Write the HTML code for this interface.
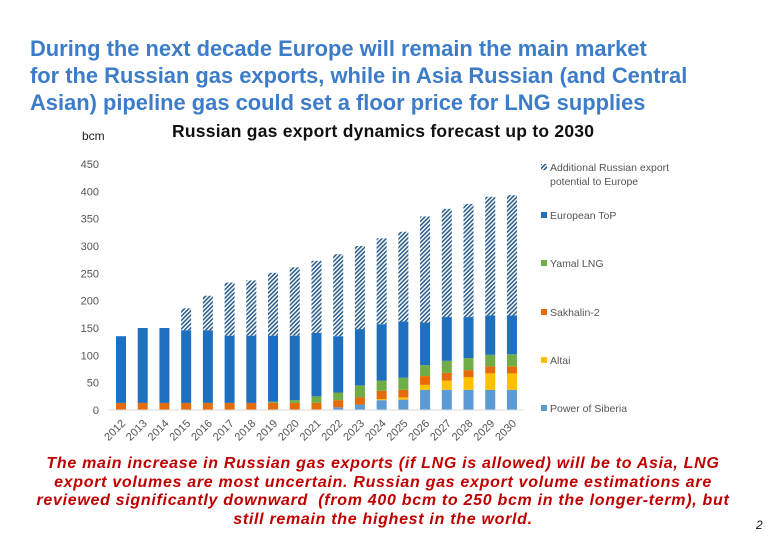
<!DOCTYPE html>
<html><head><meta charset="utf-8"><style>
body{margin:0;width:780px;height:540px;background:#fff;overflow:hidden;position:relative;font-family:"Liberation Sans",sans-serif}
.t{position:absolute;left:30px;top:35px;color:#3d7cc9;font-weight:bold;font-size:21.9px;line-height:27px;margin:0;white-space:nowrap}
.bt{position:absolute;left:0;width:766px;top:455px;color:#c00000;font-style:italic;font-weight:bold;font-size:16px;letter-spacing:0.7px;line-height:18.5px;text-align:center;white-space:nowrap}
</style></head><body>
<h1 class="t">During the next decade Europe will remain the main market<br>for the Russian gas exports, while in Asia Russian (and Central<br>Asian) pipeline gas could set a floor price for LNG supplies</h1>
<svg id="c" width="780" height="540" style="position:absolute;left:0;top:0">
<defs><pattern id="hatch" width="3" height="3" patternUnits="userSpaceOnUse" patternTransform="rotate(45)"><rect width="3" height="3" fill="#fff"/><rect width="1.6" height="3" fill="#2e5f8a"/></pattern></defs>
<text x="82" y="140" font-size="12" fill="#222">bcm</text>
<text x="172" y="137" font-size="17.5" font-weight="bold" fill="#111" textLength="422">Russian gas export dynamics forecast up to 2030</text>
<text x="756" y="529" font-size="12" font-style="italic" fill="#111">2</text>
</svg>
<div class="bt">The main increase in Russian gas exports (if LNG is allowed) will be to Asia, LNG<br>export volumes are most uncertain. Russian gas export volume estimations are<br>reviewed significantly downward &nbsp;(from 400 bcm to 250 bcm in the longer-term), but<br>still remain the highest in the world.</div>
<script>
const years=[2012,2013,2014,2015,2016,2017,2018,2019,2020,2021,2022,2023,2024,2025,2026,2027,2028,2029,2030];
const powerOfSiberia=[0,0,0,0,0,0,0,0,0,1,5,10,18,19,37,37,37,37,37];
const altai=[0,0,0,0,0,0,0,0,0,0,0,0,2,4,9,17,23,30,30];
const sakhalin2=[13,13,13,13,13,13,13,13,13,12,13,13,15,14,16,14,13,13,13];
const yamalLng=[0,0,0,0,0,0,0,2,5,12,14,22,19,22,20,22,22,21,22];
const europeanTop=[122,137,137,133,133,123,123,121,118,116,103,103,103,103,78,80,75,72,71];
const additional=[0,0,0,40,63,97,101,115,125,132,150,152,157,164,194,198,207,217,220];
const yTicks=[0,50,100,150,200,250,300,350,400,450];
const seriesNames=["Power of Siberia","Altai","Sakhalin-2","Yamal LNG","European ToP","Additional Russian export"];
const ns="http://www.w3.org/2000/svg",svg=document.getElementById('c');
const y0=410,yMax=450,ph=246,x0=121,step=21.72,bw=10;
const Y=v=>y0-v/yMax*ph, X=i=>x0+i*step;
function mk(t,a){const e=document.createElementNS(ns,t);for(const k in a)e.setAttribute(k,a[k]);svg.appendChild(e);return e;}
yTicks.forEach(v=>{const e=mk('text',{x:99,y:Y(v)+4,'font-size':11,fill:'#555','text-anchor':'end'});e.textContent=v;

});
const series=[powerOfSiberia,altai,sakhalin2,yamalLng,europeanTop,additional];
const colors=["#5b9bd5","#ffc000","#e46c0a","#70ad47","#1f6fbf","url(#hatch)"];
const keys=["power-of-siberia","altai","sakhalin-2","yamal-lng","european-top","additional-potential"];
years.forEach((yr,i)=>{let acc=0;
series.forEach((s,k)=>{const v=s[i];if(v>0){const r=mk('rect',{x:X(i)-bw/2,y:Y(acc+v),width:bw,height:Y(acc)-Y(acc+v),fill:colors[k]});

}acc+=v;});
const t=mk('text',{x:X(i)+5,y:y0+14,'font-size':11,fill:'#555','text-anchor':'end',transform:`rotate(-45 ${X(i)+5} ${y0+14})`});t.textContent=yr;

});
mk('line',{x1:108,x2:524,y1:y0,y2:y0,stroke:'#d9d9d9'});
const legY=[409,361,313,264,216,168];
seriesNames.forEach((n,k)=>{const g=mk('g',{});


const r=document.createElementNS(ns,'rect');r.setAttribute('x',541);r.setAttribute('y',legY[k]-4);r.setAttribute('width',6);r.setAttribute('height',6);r.setAttribute('fill',colors[k]);g.appendChild(r);
const t=document.createElementNS(ns,'text');t.setAttribute('x',550);t.setAttribute('y',legY[k]+3);t.setAttribute('font-size',10.5);t.setAttribute('fill','#555');t.textContent=n;g.appendChild(t);
if(k==5){const t2=document.createElementNS(ns,'text');t2.setAttribute('x',550);t2.setAttribute('y',legY[k]+17);t2.setAttribute('font-size',10.5);t2.setAttribute('fill','#555');t2.textContent='potential to Europe';g.appendChild(t2);}});
</script>
</body></html>
